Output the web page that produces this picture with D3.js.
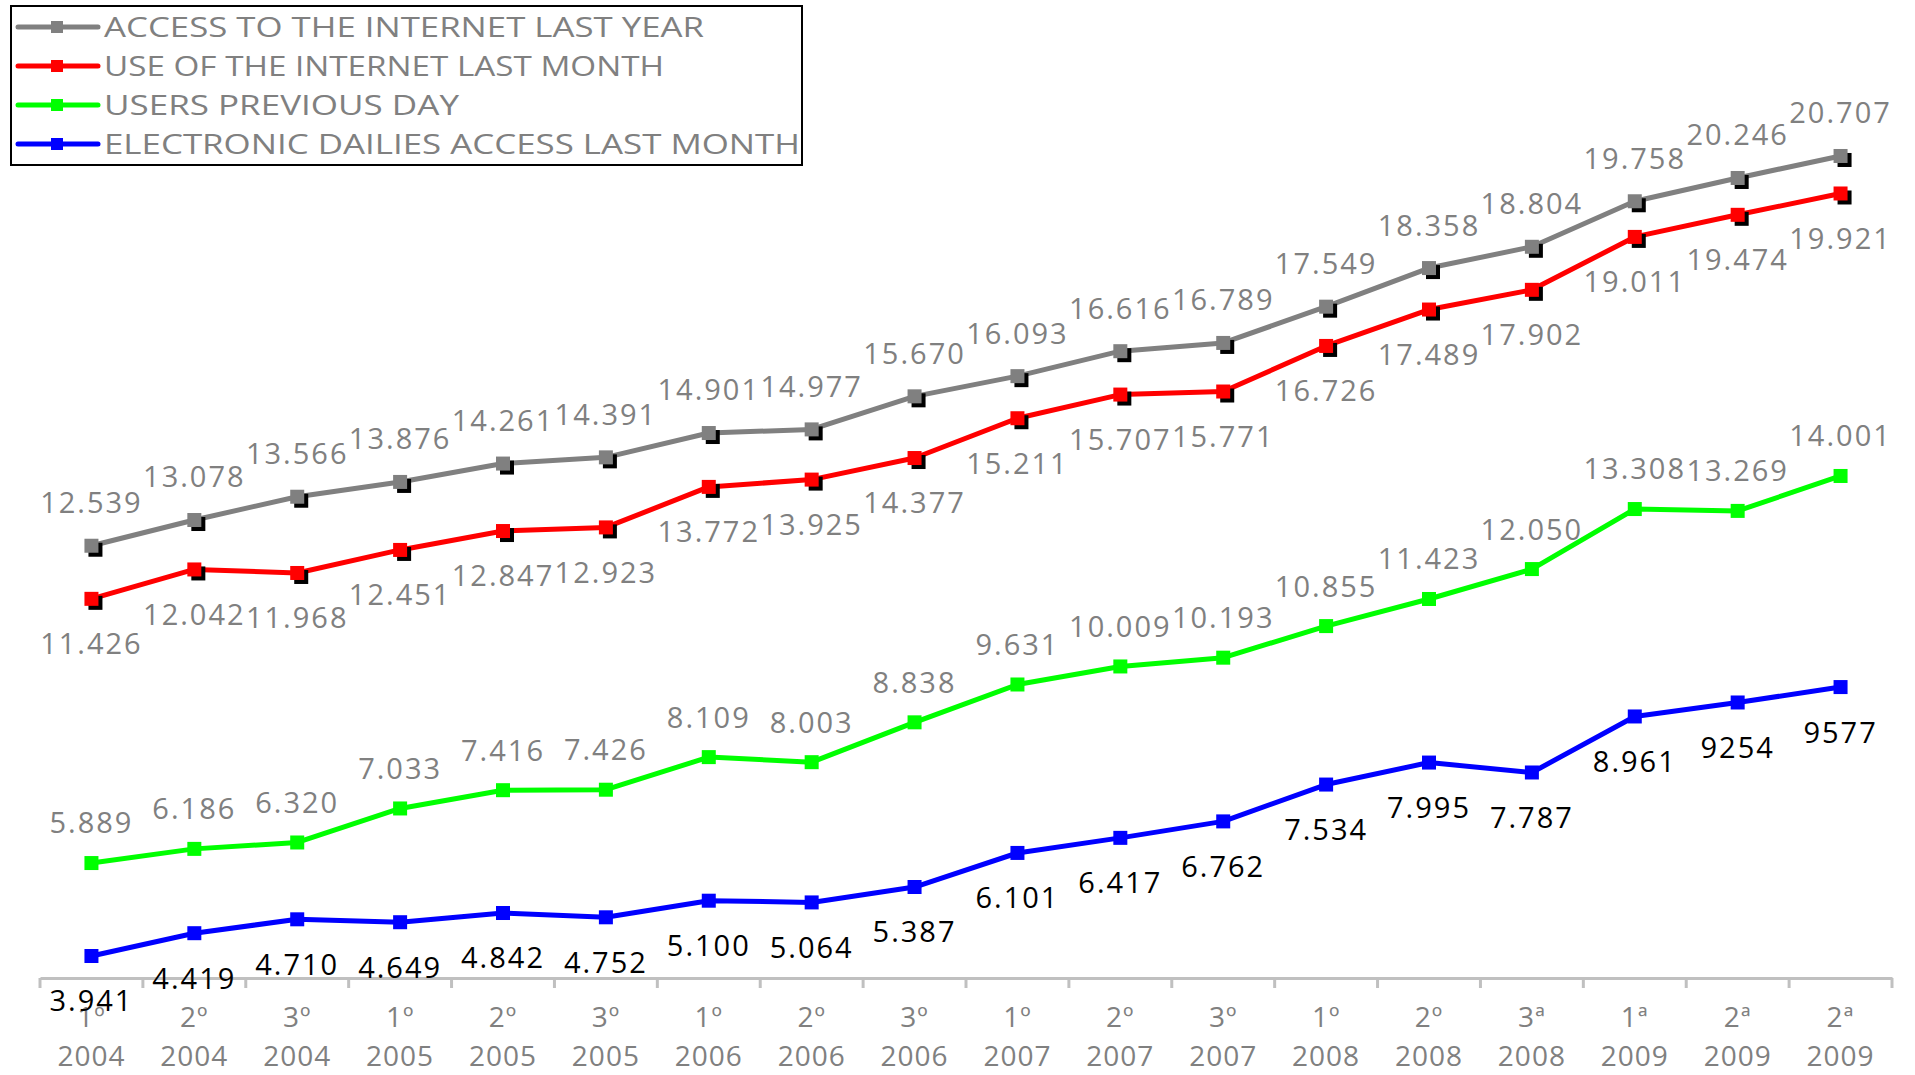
<!DOCTYPE html>
<html>
<head>
<meta charset="utf-8">
<script src="https://cdn.jsdelivr.net/npm/d3@7"></script>
<style>
  body { margin: 0; background: #fff; }
  text { font-family: "Open Sans", "DejaVu Sans", sans-serif; }
</style>
</head>
<body>
<div id="vis"></div>
<script>
// quarters (wave) and years
const waves = ['1º','2º','3º','1º','2º','3º','1º','2º','3º','1º','2º','3º','1º','2º','3ª','1ª','2ª','2ª'];
const years = ['2004','2004','2004','2005','2005','2005','2006','2006','2006','2007','2007','2007','2008','2008','2008','2009','2009','2009'];

const accessYear = [12.539, 13.078, 13.566, 13.876, 14.261, 14.391, 14.901, 14.977, 15.670, 16.093, 16.616, 16.789, 17.549, 18.358, 18.804, 19.758, 20.246, 20.707];
const useMonth = [11.426, 12.042, 11.968, 12.451, 12.847, 12.923, 13.772, 13.925, 14.377, 15.211, 15.707, 15.771, 16.726, 17.489, 17.902, 19.011, 19.474, 19.921];
const usersDay = [5.889, 6.186, 6.320, 7.033, 7.416, 7.426, 8.109, 8.003, 8.838, 9.631, 10.009, 10.193, 10.855, 11.423, 12.050, 13.308, 13.269, 14.001];
const dailies = [3.941, 4.419, 4.710, 4.649, 4.842, 4.752, 5.100, 5.064, 5.387, 6.101, 6.417, 6.762, 7.534, 7.995, 7.787, 8.961, 9.254, 9.577];
// last two blue labels are printed without the thousands dot in the source
const dailiesLabels = ['3.941','4.419','4.710','4.649','4.842','4.752','5.100','5.064','5.387','6.101','6.417','6.762','7.534','7.995','7.787','8.961','9254','9577'];

const seriesNames = ['ACCESS TO THE INTERNET LAST YEAR', 'USE OF THE INTERNET LAST MONTH', 'USERS PREVIOUS DAY', 'ELECTRONIC DAILIES ACCESS LAST MONTH'];

class Linevis {
    constructor() {
        this.config = {
            width: 1915,
            height: 1075,
            left: 40,
            right: 1892,
            top: 142,
            bottom: 978
        }
        this.initVis();
    }
    initVis() {
        let vis = this;
        vis.svg = d3.select('#vis')
        .append('svg')
        .attr('width', vis.config.width)
        .attr('height', vis.config.height);

        vis.x = d3.scaleBand()
        .domain(d3.range(waves.length))
        .range([vis.config.left, vis.config.right]);

        vis.y = d3.scaleLinear()
        .domain([3.48, 21])
        .range([vis.config.bottom, vis.config.top]);
    }
    updateVis() {
        let vis = this;
        vis.series = [
            {name: seriesNames[0], values: accessYear, labels: accessYear.map(d => d3.format('.3f')(d)), color: '#808080', labelColor: '#808080', dy: -43, shadow: true},
            {name: seriesNames[1], values: useMonth, labels: useMonth.map(d => d3.format('.3f')(d)), color: '#ff0000', labelColor: '#808080', dy: 45, shadow: true},
            {name: seriesNames[2], values: usersDay, labels: usersDay.map(d => d3.format('.3f')(d)), color: '#00ff00', labelColor: '#808080', dy: -40, shadow: false},
            {name: seriesNames[3], values: dailies, labels: dailiesLabels, color: '#0000ff', labelColor: '#000000', dy: 45, shadow: false}
        ];
        vis.renderVis();
    }
    renderVis() {
        let vis = this;
        const cx = i => vis.x(i) + vis.x.bandwidth() / 2;

        // x axis
        const axis = vis.svg.append('g')
        .attr('transform', `translate(0,${vis.config.bottom})`)
        .call(d3.axisBottom(vis.x).tickSize(0).tickFormat(''));
        axis.select('.domain').attr('stroke', '#c0c0c0').attr('stroke-width', 3);
        axis.selectAll('.bound')
        .data(d3.range(waves.length + 1))
        .join('line')
        .attr('x1', i => i < waves.length ? vis.x(i) : vis.config.right)
        .attr('x2', i => i < waves.length ? vis.x(i) : vis.config.right)
        .attr('y1', 0).attr('y2', 10)
        .attr('stroke', '#c0c0c0').attr('stroke-width', 3);

        // two-line category labels
        const ticks = vis.svg.append('g');
        [[waves, 1027], [years, 1065.5]].forEach(([arr, yy]) => {
            ticks.append('g').selectAll('text')
            .data(arr)
            .join('text')
            .attr('x', (d, i) => cx(i))
            .attr('y', yy)
            .attr('text-anchor', 'middle')
            .attr('fill', '#808080')
            .style('font-size', '28px')
            .style('letter-spacing', '1px')
            .text(d => d);
        });

        const line = d3.line()
        .x((d, i) => cx(i))
        .y(d => vis.y(d));

        vis.series.forEach(s => {
            const g = vis.svg.append('g');
            g.append('path')
            .attr('d', line(s.values))
            .attr('fill', 'none')
            .attr('stroke', s.color)
            .attr('stroke-width', 5)
            .attr('stroke-linejoin', 'round');
            if (s.shadow) {
                g.selectAll('.shadow')
                .data(s.values)
                .join('rect')
                .attr('x', (d, i) => cx(i) - 7 + 4)
                .attr('y', d => vis.y(d) - 7 + 4)
                .attr('width', 14).attr('height', 14)
                .attr('fill', '#000');
            }
            g.selectAll('.mark')
            .data(s.values)
            .join('rect')
            .attr('x', (d, i) => cx(i) - 7)
            .attr('y', d => vis.y(d) - 7)
            .attr('width', 14).attr('height', 14)
            .attr('fill', s.color);
        });

        // data labels on top
        vis.series.forEach(s => {
            vis.svg.append('g').selectAll('text')
            .data(s.values)
            .join('text')
            .attr('x', (d, i) => cx(i))
            .attr('y', d => vis.y(d) + s.dy)
            .attr('dy', '0.36em')
            .attr('text-anchor', 'middle')
            .attr('fill', s.labelColor)
            .style('font-size', '29px')
            .style('letter-spacing', '2px')
            .text((d, i) => s.labels[i]);
        });

        // legend
        const lg = vis.svg.append('g');
        lg.append('rect')
        .attr('x', 11).attr('y', 6)
        .attr('width', 791).attr('height', 159)
        .attr('fill', '#fff')
        .attr('stroke', '#000').attr('stroke-width', 2);
        const item = lg.selectAll('.item')
        .data(vis.series)
        .join('g')
        .attr('transform', (d, i) => `translate(0,${27 + i * 39})`);
        item.append('line')
        .attr('x1', 18).attr('x2', 98)
        .attr('stroke', d => d.color).attr('stroke-width', 5)
        .attr('stroke-linecap', 'round');
        item.append('rect')
        .attr('x', 51).attr('y', -6)
        .attr('width', 12).attr('height', 12)
        .attr('fill', d => d.color);
        item.append('text')
        .attr('x', 104)
        .attr('dy', '0.36em')
        .attr('fill', '#808080')
        .style('font-size', '28px')
        .attr('textLength', (d, i) => [600, 560, 355, 696][i])
        .attr('lengthAdjust', 'spacingAndGlyphs')
        .text(d => d.name);
    }
}

const chart = new Linevis();
chart.updateVis();
</script>
</body>
</html>
